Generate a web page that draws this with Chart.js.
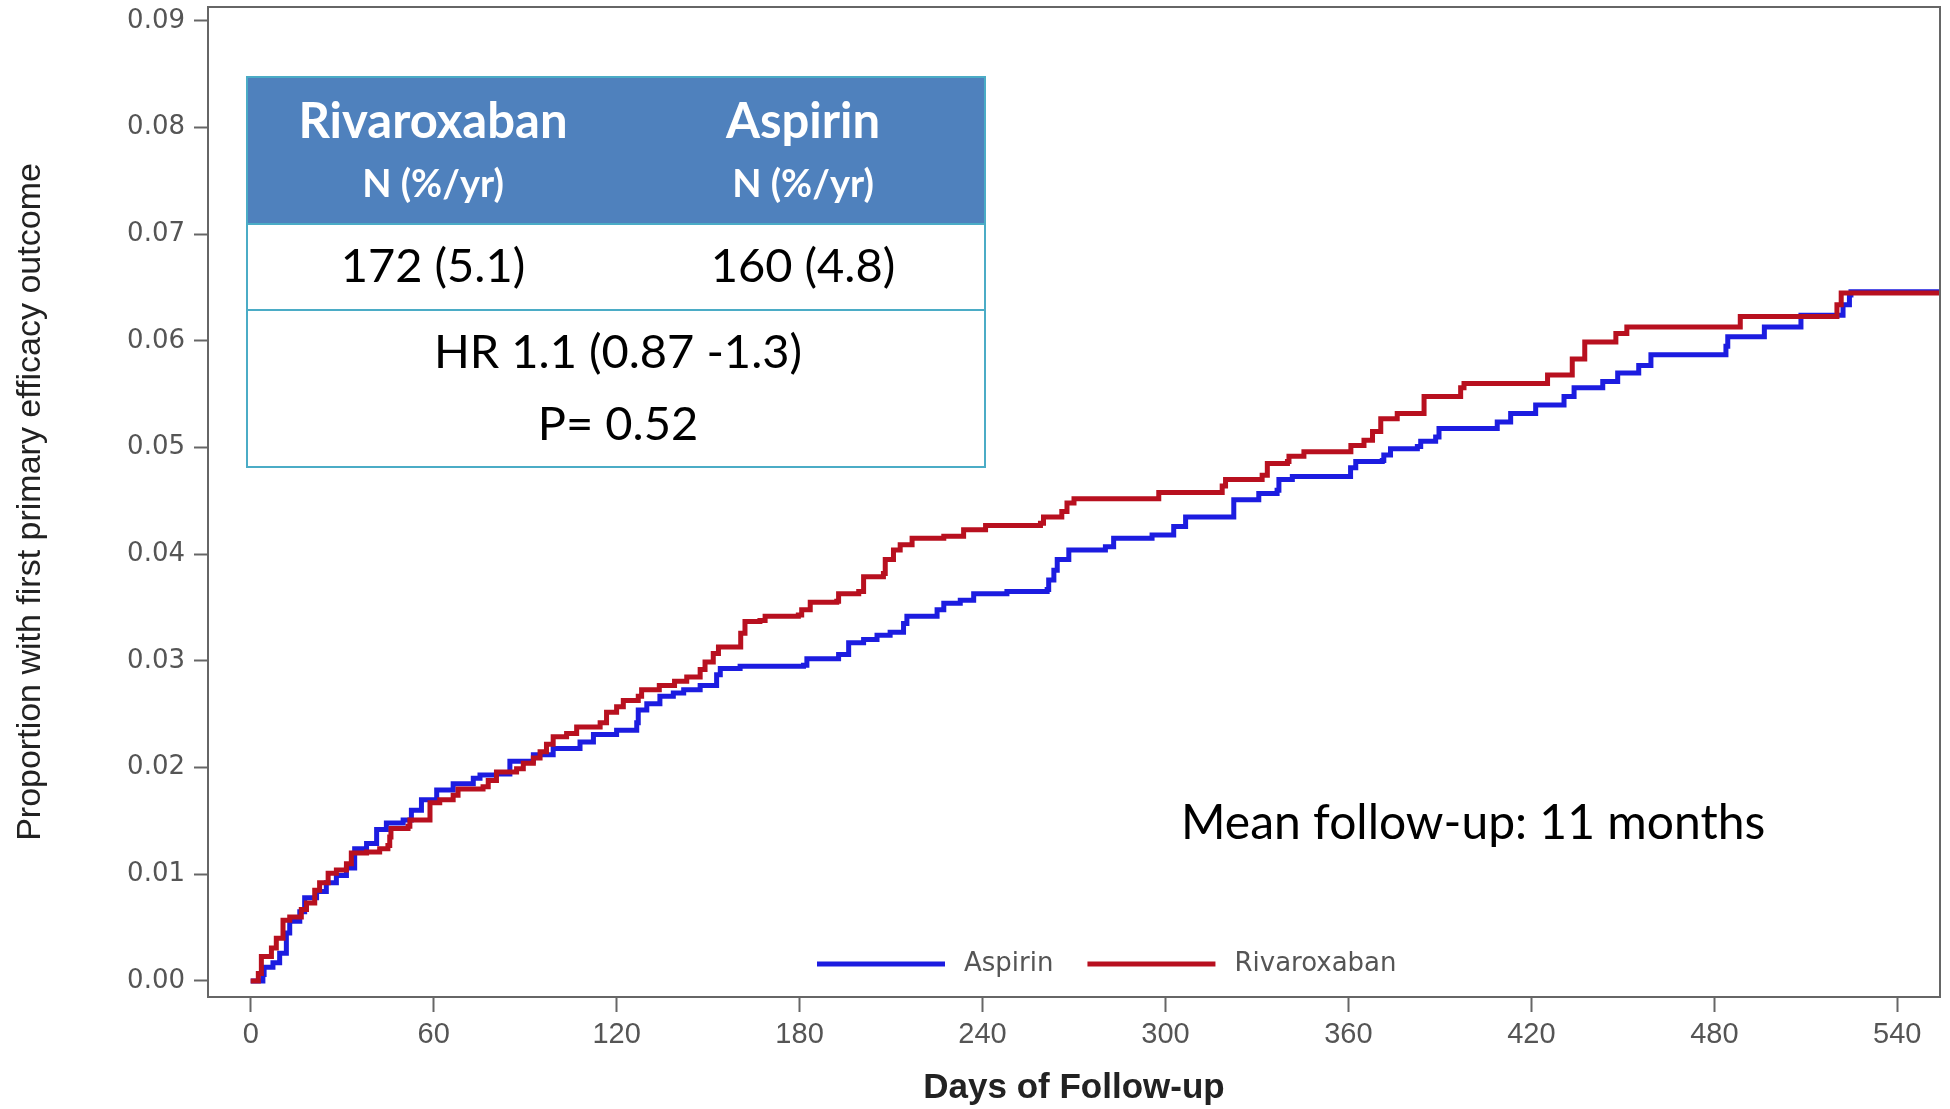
<!DOCTYPE html>
<html>
<head>
<meta charset="utf-8">
<script src="https://cdn.jsdelivr.net/npm/chart.js@4.4.1/dist/chart.umd.min.js"></script>
<style>
  html, body { margin: 0; padding: 0; background: #ffffff; }
  #wrap { position: relative; width: 1950px; height: 1109px; overflow: hidden; }
  #c { position: absolute; left: 0; top: 0; }
  .tbl { position: absolute; left: 246px; top: 76px; width: 740px; height: 392px; box-sizing: border-box;
         border: 2px solid #4BACC6; background: #ffffff; font-family: Lato, "Open Sans", sans-serif; }
  .hdr { position: absolute; left: 0; top: 0; width: 100%; height: 145px; background: #4F81BD; border-bottom: 2px solid #4BACC6; }
  .row1 { position: absolute; left: 0; top: 145px; width: 100%; height: 86px; border-bottom: 2px solid #4BACC6; }
  .t { position: absolute; text-align: center; white-space: nowrap; line-height: 1.2; }
  .note { position: absolute; left: 1181px; top: 792px; font-family: Lato, "Open Sans", sans-serif; font-size: 48px; line-height: 1.2; color: #000; white-space: nowrap; }
</style>
</head>
<body>
<div id="wrap">
  <canvas id="c" width="1950" height="1109"></canvas>
  <div class="tbl">
    <div class="hdr"></div>
    <div class="row1"></div>
    <div class="t" style="left:0;width:370px;top:12px;font-size:49px;font-weight:700;color:#fff;">Rivaroxaban</div>
    <div class="t" style="left:370px;width:370px;top:12px;font-size:49px;font-weight:700;color:#fff;">Aspirin</div>
    <div class="t" style="left:0;width:370px;top:82px;font-size:38px;font-weight:700;color:#fff;">N (%/yr)</div>
    <div class="t" style="left:370px;width:370px;top:82px;font-size:38px;font-weight:700;color:#fff;">N (%/yr)</div>
    <div class="t" style="left:0;width:370px;top:158px;font-size:47px;color:#000;">172 (5.1)</div>
    <div class="t" style="left:370px;width:370px;top:158px;font-size:47px;color:#000;">160 (4.8)</div>
    <div class="t" style="left:0;width:740px;top:244px;font-size:47px;color:#000;">HR 1.1 (0.87 -1.3)</div>
    <div class="t" style="left:0;width:740px;top:316px;font-size:47px;color:#000;">P= 0.52</div>
  </div>
  <div class="note">Mean follow-up: 11 months</div>
</div>
<script>
// ---- data ----
const seriesNames = ['Aspirin', 'Rivaroxaban'];
const seriesColors = ['#1c1ce0', '#b8101f'];

const aspirinDays = [0, 4, 4.4, 7.3, 9.5, 11.7, 12.8, 16.1, 17.7, 21.6, 24.8, 28.1, 31.4, 34.1, 38, 41.3, 44.5, 50, 52.7, 56, 61, 66.4, 73, 75.2, 80.6, 85, 92.7, 99.2, 108, 112.4, 120, 126.6, 127.1, 129.9, 134.2, 138.6, 142, 147.4, 152.8, 154, 160.5, 181.3, 182.4, 192.8, 196.1, 201, 205.4, 209.7, 214.1, 215.2, 225.1, 227.3, 232.7, 237.1, 248, 261.2, 261.7, 263.4, 264.5, 268.3, 280.3, 283, 295.6, 302.7, 306.6, 322.4, 330.6, 336.6, 337.2, 341.6, 360.7, 362.4, 371.1, 371.6, 373.8, 382.6, 383.7, 388.6, 389.7, 408.8, 413.2, 421.4, 430.7, 434, 443.4, 448.3, 455.2, 459.2, 483.8, 484.4, 496.4, 508.4, 522.2, 524.3, 524.8, 554];
const aspirinRisk = [0, 0.0006, 0.0013, 0.0017, 0.0026, 0.0045, 0.0056, 0.0065, 0.0078, 0.0084, 0.0092, 0.0099, 0.0106, 0.0124, 0.0129, 0.0142, 0.0148, 0.0151, 0.0160, 0.0170, 0.0179, 0.0185, 0.0190, 0.0193, 0.0194, 0.0206, 0.0212, 0.0218, 0.0224, 0.0231, 0.0235, 0.0242, 0.0254, 0.0260, 0.0267, 0.0270, 0.0273, 0.0277, 0.0287, 0.0293, 0.0295, 0.0296, 0.0302, 0.0306, 0.0317, 0.0320, 0.0324, 0.0327, 0.0335, 0.0342, 0.0348, 0.0354, 0.0357, 0.0363, 0.0365, 0.0367, 0.0376, 0.0385, 0.0395, 0.0404, 0.0407, 0.0415, 0.0418, 0.0426, 0.0435, 0.0451, 0.0457, 0.0460, 0.0470, 0.0473, 0.0481, 0.0487, 0.0488, 0.0493, 0.0499, 0.0501, 0.0506, 0.0510, 0.0518, 0.0524, 0.0532, 0.0540, 0.0548, 0.0556, 0.0562, 0.0570, 0.0577, 0.0587, 0.0595, 0.0604, 0.0613, 0.0624, 0.0634, 0.0643, 0.0646, 0.0646];

const rivaDays = [0, 2.5, 3.5, 6.8, 8.4, 10.6, 12.8, 16.6, 18.3, 21, 22.6, 25.4, 28.1, 31.4, 33, 38, 42.3, 45, 45.6, 46, 51.6, 52.2, 58.8, 62, 66.4, 68, 76.2, 77.9, 80.6, 87.2, 89.4, 92.7, 94.9, 97, 99.2, 103.6, 106.9, 114.6, 116.7, 120, 122.2, 127.1, 128.2, 134, 139, 143, 147.4, 149, 151.7, 153.4, 160.7, 162.1, 167, 168.7, 179.6, 180.7, 183.5, 192.2, 192.8, 199.4, 201, 207.5, 208.1, 210.8, 213, 216.9, 227.3, 233.8, 241, 259, 260, 266, 267.7, 270, 297.8, 318.6, 319.7, 331.7, 333.4, 340, 340.5, 345.4, 360.8, 365.1, 367.9, 370.6, 376, 384.8, 396.8, 397.9, 425.3, 433.4, 437.5, 447.7, 451.3, 488.5, 520.2, 521.6, 554];
const rivaRisk = [0, 0.0007, 0.0023, 0.0031, 0.0040, 0.0057, 0.0060, 0.0067, 0.0073, 0.0085, 0.0092, 0.0101, 0.0104, 0.0110, 0.0120, 0.0121, 0.0124, 0.0127, 0.0135, 0.0143, 0.0145, 0.0151, 0.0167, 0.0170, 0.0174, 0.0180, 0.0182, 0.0188, 0.0196, 0.0199, 0.0204, 0.0209, 0.0215, 0.0222, 0.0229, 0.0232, 0.0238, 0.0242, 0.0252, 0.0257, 0.0263, 0.0267, 0.0273, 0.0277, 0.0281, 0.0285, 0.0292, 0.0299, 0.0307, 0.0313, 0.0326, 0.0337, 0.0338, 0.0342, 0.0343, 0.0348, 0.0355, 0.0356, 0.0363, 0.0365, 0.0379, 0.0382, 0.0395, 0.0404, 0.0409, 0.0415, 0.0417, 0.0423, 0.0427, 0.0429, 0.0435, 0.0440, 0.0448, 0.0452, 0.0458, 0.0464, 0.0470, 0.0474, 0.0485, 0.0487, 0.0492, 0.0496, 0.0502, 0.0507, 0.0515, 0.0527, 0.0532, 0.0548, 0.0556, 0.0560, 0.0568, 0.0583, 0.0599, 0.0607, 0.0613, 0.0623, 0.0634, 0.0645, 0.0645];

const xTicks = [0, 60, 120, 180, 240, 300, 360, 420, 480, 540];
const yTicks = [0, 0.01, 0.02, 0.03, 0.04, 0.05, 0.06, 0.07, 0.08, 0.09];
const xTitle = 'Days of Follow-up';
const yTitle = 'Proportion with first primary efficacy outcome';

// ---- chart ----
function toPoints(xs, ys) { return xs.map((x, i) => ({ x: x, y: ys[i] })); }

const frameAndLegend = {
  id: 'frameAndLegend',
  afterDatasetsDraw(chart) {
    const { ctx, chartArea: a } = chart;
    ctx.save();
    ctx.strokeStyle = '#666666';
    ctx.lineWidth = 2;
    ctx.strokeRect(a.left, a.top, a.right - a.left, a.bottom - a.top);
    // legend
    let x = a.left + 609;
    const y = a.bottom - 33;
    ctx.font = '26px "DejaVu Sans"';
    ctx.textBaseline = 'middle';
    chart.data.datasets.forEach((ds) => {
      ctx.strokeStyle = ds.borderColor;
      ctx.lineWidth = 5;
      ctx.beginPath(); ctx.moveTo(x, y); ctx.lineTo(x + 128, y); ctx.stroke();
      x += 128 + 19;
      ctx.fillStyle = '#555555';
      ctx.fillText(ds.label, x, y);
      x += ctx.measureText(ds.label).width + 34;
    });
    ctx.restore();
  }
};

new Chart(document.getElementById('c'), {
  type: 'line',
  data: {
    datasets: [
      { label: seriesNames[0], data: toPoints(aspirinDays, aspirinRisk), borderColor: seriesColors[0], order: 1 },
      { label: seriesNames[1], data: toPoints(rivaDays, rivaRisk), borderColor: seriesColors[1], order: 0 }
    ]
  },
  options: {
    responsive: false,
    animation: false,
    devicePixelRatio: 1,
    layout: { padding: { left: 0, top: 7, right: 10, bottom: 0 } },
    datasets: { line: { stepped: true, borderWidth: 5, pointRadius: 0, fill: false, tension: 0 } },
    plugins: { legend: { display: false }, tooltip: { enabled: false } },
    scales: {
      x: {
        type: 'linear', min: -14, max: 554,
        afterBuildTicks: (s) => { s.ticks = xTicks.map(v => ({ value: v })); },
        afterFit: (s) => { s.height = 112; s.paddingLeft = 0; s.paddingRight = 0; },
        ticks: { color: '#555555', font: { family: 'Liberation Sans', size: 29 }, padding: 6, maxRotation: 0, autoSkip: false },
        grid: { display: true, drawOnChartArea: false, drawTicks: true, tickLength: 15, tickWidth: 2, tickColor: '#666666' },
        border: { display: false },
        title: { display: true, text: xTitle, color: '#222222', font: { family: 'Liberation Sans', size: 35, weight: 'bold' }, padding: { top: 0, bottom: 0 } }
      },
      y: {
        type: 'linear', min: -0.0015, max: 0.0913,
        afterBuildTicks: (s) => { s.ticks = yTicks.map(v => ({ value: v })); },
        afterFit: (s) => { s.width = 208; s.paddingTop = 0; s.paddingBottom = 0; },
        ticks: { color: '#555555', font: { family: 'DejaVu Sans', size: 26 }, padding: 9, callback: (v) => Number(v).toFixed(2) },
        grid: { display: true, drawOnChartArea: false, drawTicks: true, tickLength: 14, tickWidth: 2, tickColor: '#666666' },
        border: { display: false },
        title: { display: true, text: yTitle, color: '#222222', font: { family: 'Liberation Sans', size: 34 }, padding: { top: 10, bottom: 0 } }
      }
    }
  },
  plugins: [frameAndLegend]
});
</script>
</body>
</html>
